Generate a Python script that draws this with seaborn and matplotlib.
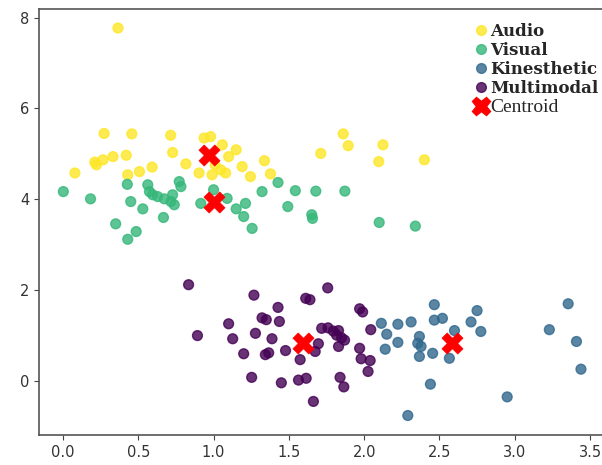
import numpy as np
import pandas as pd
import matplotlib
matplotlib.use("Agg")
import matplotlib.pyplot as plt
from matplotlib.lines import Line2D
import seaborn as sns

# ---------------- data ----------------
audio_x = [0.365, 0.273, 0.457, 0.715, 0.937, 0.98, 1.058, 1.15, 0.728, 0.42, 0.332, 0.266,
           0.211, 0.222, 1.338, 0.816, 0.079, 0.43, 0.508, 0.592, 1.19, 1.245, 1.378, 0.904,
           0.99, 1.047, 1.08, 1.01, 1.10, 1.712, 1.861, 1.894, 2.125, 2.097, 2.40]
audio_y = [7.77, 5.45, 5.44, 5.41, 5.35, 5.38, 5.20, 5.09, 5.03, 4.97, 4.94, 4.87,
           4.82, 4.76, 4.85, 4.78, 4.58, 4.54, 4.61, 4.71, 4.72, 4.50, 4.56, 4.58,
           4.54, 4.65, 4.58, 4.76, 4.94, 5.01, 5.44, 5.18, 5.20, 4.83, 4.87]

visual_x = [0.002, 0.183, 0.35, 0.427, 0.45, 0.53, 0.43, 0.486, 0.563, 0.574, 0.596, 0.629,
            0.673, 0.717, 0.739, 0.728, 0.772, 0.783, 0.667, 0.915, 1.0, 1.09, 1.15, 1.212,
            1.20, 1.256, 1.322, 1.428, 1.493, 1.543, 1.652, 1.657, 1.679, 1.872, 2.10, 2.34]
visual_y = [4.17, 4.01, 3.46, 4.33, 3.95, 3.79, 3.12, 3.29, 4.32, 4.17, 4.10, 4.06,
            4.01, 3.95, 3.88, 4.10, 4.39, 4.28, 3.60, 3.91, 4.21, 4.02, 3.79, 3.91,
            3.62, 3.36, 4.17, 4.37, 3.84, 4.19, 3.66, 3.58, 4.18, 4.18, 3.49, 3.41]

kin_x = [2.114, 2.15, 2.224, 2.312, 2.224, 2.14, 2.367, 2.356, 2.378, 2.367, 2.466, 2.466,
         2.52, 2.455, 2.566, 2.60, 2.75, 2.71, 2.775, 2.44, 2.29, 2.95, 3.23, 3.355, 3.41, 3.44]
kin_y = [1.27, 1.03, 1.25, 1.30, 0.85, 0.70, 0.98, 0.83, 0.76, 0.54, 1.68, 1.34,
         1.38, 0.61, 0.50, 1.11, 1.55, 1.30, 1.09, -0.07, -0.76, -0.35, 1.13, 1.70, 0.87, 0.26]

multi_x = [0.834, 0.893, 1.10, 1.127, 1.20, 1.253, 1.268, 1.278, 1.322, 1.35, 1.344, 1.366,
           1.388, 1.428, 1.437, 1.45, 1.478, 1.564, 1.615, 1.575, 1.612, 1.64, 1.675, 1.696,
           1.663, 1.758, 1.718, 1.76, 1.795, 1.83, 1.817, 1.85, 1.87, 1.83, 1.97, 1.99,
           2.044, 1.97, 1.98, 2.04, 2.026, 1.84, 1.865]
multi_y = [2.12, 1.00, 1.26, 0.93, 0.60, 0.08, 1.89, 1.05, 1.39, 1.35, 0.58, 0.62,
           0.93, 1.62, 1.31, -0.04, 0.67, 0.02, 0.06, 0.47, 1.82, 1.79, 0.65, 0.82,
           -0.45, 2.05, 1.16, 1.17, 1.10, 1.11, 1.01, 0.95, 0.90, 0.76, 1.59, 1.52,
           1.13, 0.72, 0.49, 0.45, 0.21, 0.08, -0.13]

centroid_x = [0.97, 1.003, 2.585, 1.597]
centroid_y = [4.98, 3.93, 0.84, 0.84]

labels = ["Audio", "Visual", "Kinesthetic", "Multimodal"]
colors = {"Audio": "#fde725", "Visual": "#35b779",
          "Kinesthetic": "#31688e", "Multimodal": "#440154"}

df = pd.concat([
    pd.DataFrame({"x": audio_x, "y": audio_y, "style": "Audio"}),
    pd.DataFrame({"x": visual_x, "y": visual_y, "style": "Visual"}),
    pd.DataFrame({"x": kin_x, "y": kin_y, "style": "Kinesthetic"}),
    pd.DataFrame({"x": multi_x, "y": multi_y, "style": "Multimodal"}),
], ignore_index=True)
cent = pd.DataFrame({"x": centroid_x, "y": centroid_y})

# ---------------- plot ----------------
sns.set_style("ticks")
plt.rcParams["font.family"] = ["DejaVu Sans"]

W, H = 602, 465
fig = plt.figure(figsize=(W / 100, H / 100), dpi=100)
ax = fig.add_axes([39 / W, (H - 435) / H, (611 - 39) / W, (435 - 9) / H])

sns.scatterplot(data=df, x="x", y="y", hue="style", palette=colors,
                hue_order=labels, s=50, alpha=0.8, edgecolor="face",
                linewidth=1, legend=False, ax=ax)
sns.scatterplot(data=cent, x="x", y="y", color="red", marker="X", s=230,
                edgecolor="red", linewidth=0.5, legend=False, ax=ax, zorder=5)

# x: 0 at 63px, 3.5 at ~590px ; y: 0 at 381px, 8 at 19px
xs = (590 - 63) / 3.5
ax.set_xlim((39 - 63) / xs, (611 - 63) / xs)
ax.set_ylim(-1.189, 8.19)
ax.set_xticks([0.0, 0.5, 1.0, 1.5, 2.0, 2.5, 3.0, 3.5])
ax.set_yticks([0, 2, 4, 6, 8])
ax.set_xlabel("")
ax.set_ylabel("")
ax.tick_params(labelsize=10.5, colors="#444444", labelcolor="#333333")
for sp in ax.spines.values():
    sp.set_color("#555555")
    sp.set_linewidth(1.2)

handles = [Line2D([0], [0], marker="o", linestyle="", markersize=7,
                  markerfacecolor=colors[l], markeredgecolor=colors[l], alpha=0.8)
           for l in labels]
handles.append(Line2D([0], [0], marker="X", linestyle="", markersize=13,
                      markerfacecolor="red", markeredgecolor="red"))
leg = ax.legend(handles, labels + ["Centroid"], loc="upper right",
                bbox_to_anchor=(1.0, 1 - 20 / H), bbox_transform=fig.transFigure,
                frameon=False, borderaxespad=0, borderpad=0.2,
                handlelength=0.7, handletextpad=0.2, labelspacing=0.12,
                prop={"family": "DejaVu Serif", "weight": "bold", "size": 12})
for t in leg.get_texts()[4:]:
    t.set_fontfamily("Liberation Serif")
    t.set_fontweight("normal")
    t.set_fontsize(14)

fig.savefig("out.png", dpi=100)
